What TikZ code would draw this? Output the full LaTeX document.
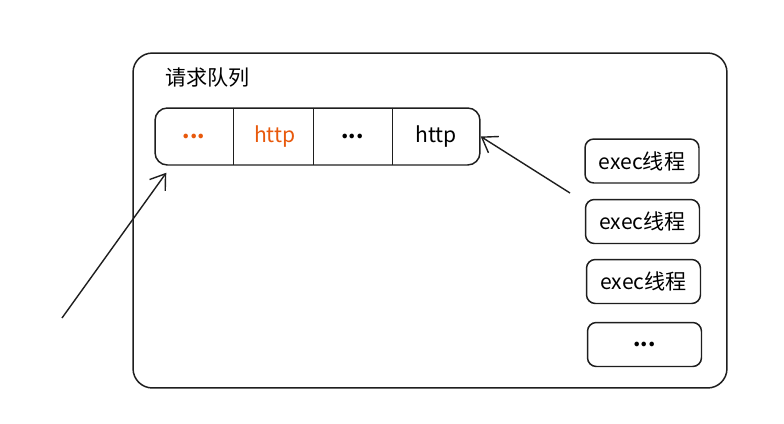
\documentclass[tikz,border=0pt]{standalone}
\usepackage{fontspec}
\usepackage{tikz}
\usepackage{xcolor}
\usetikzlibrary{arrows.meta,positioning,calc}
\newfontfamily\cjk{Noto Sans CJK SC}
\definecolor{ink}{HTML}{1E1E1E}
\definecolor{accentorange}{HTML}{E8590C}
\tikzset{
  frame/.style={draw=ink,line width=0.85pt,rounded corners=11pt},
  queuebox/.style={draw=ink,line width=0.85pt,rounded corners=7pt,
                   minimum width=6.5cm,minimum height=1.14cm,inner sep=0pt},
  cell/.style={minimum height=1.14cm,inner sep=0pt,font=\cjk\large},
  execbox/.style={draw=ink,line width=0.85pt,rounded corners=5pt,
                  minimum width=2.28cm,minimum height=0.88cm,inner sep=0pt,
                  font=\cjk\large},
  barbarr/.style={-{Straight Barb[length=8pt,width=11pt]},line width=0.8pt,
                  draw=ink}
}
\begin{document}
\begin{tikzpicture}[x=0.02cm,y=-0.02cm]
    \path[use as bounding box] (0,0) rectangle (784,423);
    \node[frame,minimum width=11.88cm,minimum height=6.7cm] (pool) at (430,220.5) {};
    \node[font=\cjk\large,anchor=west,inner sep=0pt] (qlabel) at (165,78) {请求队列};

    \node[queuebox] (queue) at (317.5,136.5) {};
    \node[cell,minimum width=1.56cm,text=accentorange] (c1) at (194,136.5) {\textbf{...}};
    \node[cell,minimum width=1.60cm,text=accentorange] (c2) at (273,136.5) {\,http};
    \node[cell,minimum width=1.58cm] (c3) at (352.5,136.5) {\textbf{...}};
    \node[cell,minimum width=1.76cm] (c4) at (436,136.5) {http};
    \draw[ink,line width=0.85pt] (c1.north east) -- (c1.south east);
    \draw[ink,line width=0.85pt] (c2.north east) -- (c2.south east);
    \draw[ink,line width=0.85pt] (c3.north east) -- (c3.south east);

    \node[execbox] (exec1) at (642,161) {exec线程};
    \node[execbox] (exec2) at (642.5,221.5) {exec线程};
    \node[execbox] (exec3) at (643.5,281.5) {exec线程};
    \node[execbox] (exec4) at (644.5,344.5) {\textbf{...}};

    \coordinate (inflow) at (62,318);
    \coordinate (outflow) at (570,193);
    \draw[barbarr] (inflow) -- ($(queue.south west)+(12,7)$);
    \draw[barbarr] (outflow) -- (queue.east);
\end{tikzpicture}
\end{document}
